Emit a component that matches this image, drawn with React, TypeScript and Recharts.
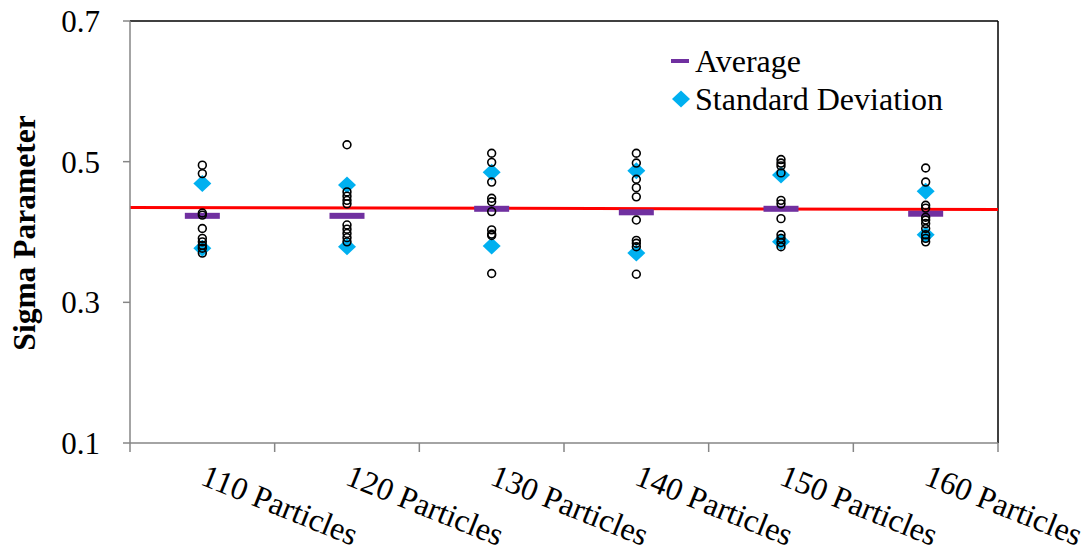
import React from "react";
import {
  ComposedChart,
  Scatter,
  Line,
  XAxis,
  YAxis,
  ReferenceLine,
  Label,
} from "recharts";

const categories = [
  "110 Particles",
  "120 Particles",
  "130 Particles",
  "140 Particles",
  "150 Particles",
  "160 Particles",
];

// individual sigma values per particle count
const samples110 = [0.495, 0.483, 0.427, 0.424, 0.405, 0.391, 0.386, 0.381, 0.377, 0.37];
const samples120 = [0.524, 0.457, 0.451, 0.445, 0.44, 0.41, 0.404, 0.398, 0.392, 0.386];
const samples130 = [0.512, 0.499, 0.471, 0.448, 0.443, 0.429, 0.403, 0.397, 0.395, 0.341];
const samples140 = [0.512, 0.498, 0.475, 0.463, 0.45, 0.417, 0.388, 0.384, 0.379, 0.34];
const samples150 = [0.503, 0.498, 0.494, 0.484, 0.445, 0.44, 0.419, 0.396, 0.391, 0.385, 0.379];
const samples160 = [0.491, 0.471, 0.438, 0.434, 0.421, 0.417, 0.412, 0.405, 0.396, 0.391, 0.386];

const averages = [0.423, 0.423, 0.433, 0.428, 0.433, 0.426];
const sdUpper = [0.469, 0.467, 0.485, 0.487, 0.481, 0.458];
const sdLower = [0.377, 0.379, 0.38, 0.37, 0.386, 0.396];

// linear trend across the whole x range
const trendX = [0, 6];
const trendY = [0.435, 0.432];

const yTicks = [0.1, 0.3, 0.5, 0.7];

const FONT = '"Liberation Serif", "Times New Roman", serif';
const PURPLE = "#7030A0";
const CYAN = "#00B0F0";
const AXIS = "#868686";

const W = 1090;
const H = 552;
const PLOT_LEFT = 130;
const PLOT_RIGHT = 998;
const CAT_W = (PLOT_RIGHT - PLOT_LEFT) / categories.length;

const allSamples = [samples110, samples120, samples130, samples140, samples150, samples160];
const sampleData = allSamples.flatMap((arr, i) => arr.map((v) => ({ x: i + 0.5, y: v })));
const avgData = averages.map((v, i) => ({ x: i + 0.5, y: v }));
const sdData = [
  ...sdUpper.map((v, i) => ({ x: i + 0.5, y: v })),
  ...sdLower.map((v, i) => ({ x: i + 0.5, y: v })),
];
const trendData = trendX.map((x, i) => ({ x, y: trendY[i] }));

const Ring = (props: any) => (
  <circle cx={props.cx} cy={props.cy} r={3.9} fill="none" stroke="#000" strokeWidth={1.6} />
);

const AvgBar = (props: any) => (
  <rect x={props.cx - 17.5} y={props.cy - 3} width={35} height={6} fill={PURPLE} />
);

const Diamond = (props: any) => {
  const { cx, cy } = props;
  return (
    <polygon
      points={`${cx},${cy - 8.5} ${cx + 9},${cy} ${cx},${cy + 8.5} ${cx - 9},${cy}`}
      fill={CYAN}
    />
  );
};

const XTick = (props: any) => {
  const { x, y, payload } = props;
  const i = payload.value;
  if (i >= categories.length) return null;
  const tx = x + CAT_W / 2 - 3;
  const ty = y + 32;
  return (
    <text
      x={tx}
      y={ty}
      transform={`rotate(22 ${tx} ${ty})`}
      textAnchor="start"
      fontFamily={FONT}
      fontSize={32}
      fill="#000"
    >
      {categories[i]}
    </text>
  );
};

export default function App() {
  return (
    <div style={{ position: "absolute", left: 0, top: 0, width: W, height: H, background: "#fff" }}>
      <ComposedChart width={W} height={H} margin={{ top: 21, right: W - PLOT_RIGHT, bottom: 0, left: 0 }}>
        <XAxis
          type="number"
          dataKey="x"
          domain={[0, 6]}
          ticks={[0, 1, 2, 3, 4, 5, 6]}
          height={109}
          tickSize={9}
          tickMargin={0}
          stroke={AXIS}
          strokeWidth={1.5}
          tick={<XTick />}
          allowDataOverflow
        />
        <YAxis
          type="number"
          domain={[0.1, 0.7]}
          ticks={yTicks}
          width={PLOT_LEFT}
          tickSize={7}
          tickMargin={23}
          stroke={AXIS}
          strokeWidth={1.5}
          tickFormatter={(v: number) => v.toFixed(1)}
          tick={{ fill: "#000", fontSize: 31, fontFamily: FONT }}
          allowDataOverflow
        >
          <Label
            content={() => (
              <text
                x={35}
                y={233}
                transform="rotate(-90 35 233)"
                textAnchor="middle"
                fontFamily={FONT}
                fontSize={31.5}
                fontWeight="bold"
                fill="#000"
              >
                Sigma Parameter
              </text>
            )}
          />
        </YAxis>
        <ReferenceLine y={0.7} stroke="#000" strokeWidth={1.5} />
        <ReferenceLine x={6} stroke="#000" strokeWidth={1.5} />
        <Scatter data={avgData} dataKey="y" shape={<AvgBar />} isAnimationActive={false} />
        <Scatter data={sdData} dataKey="y" shape={<Diamond />} isAnimationActive={false} />
        <Scatter data={sampleData} dataKey="y" shape={<Ring />} isAnimationActive={false} />
        <Line
          data={trendData}
          dataKey="y"
          type="linear"
          stroke="#FF0000"
          strokeWidth={3}
          dot={false}
          activeDot={false}
          isAnimationActive={false}
        />
      </ComposedChart>
      <div
        style={{
          position: "absolute",
          left: 662,
          top: 42,
          fontFamily: FONT,
          fontSize: 32,
          color: "#000",
        }}
      >
        <div style={{ display: "flex", alignItems: "center", height: 38 }}>
          <svg width={33} height={38}>
            <line x1={9} y1={19} x2={27} y2={19} stroke={PURPLE} strokeWidth={4} />
          </svg>
          <span style={{ lineHeight: "38px", whiteSpace: "nowrap" }}>Average</span>
        </div>
        <div style={{ display: "flex", alignItems: "center", height: 38 }}>
          <svg width={33} height={38}>
            <polygon points="19,10.5 28,19 19,27.5 10,19" fill={CYAN} />
          </svg>
          <span style={{ lineHeight: "38px", whiteSpace: "nowrap" }}>Standard Deviation</span>
        </div>
      </div>
    </div>
  );
}
